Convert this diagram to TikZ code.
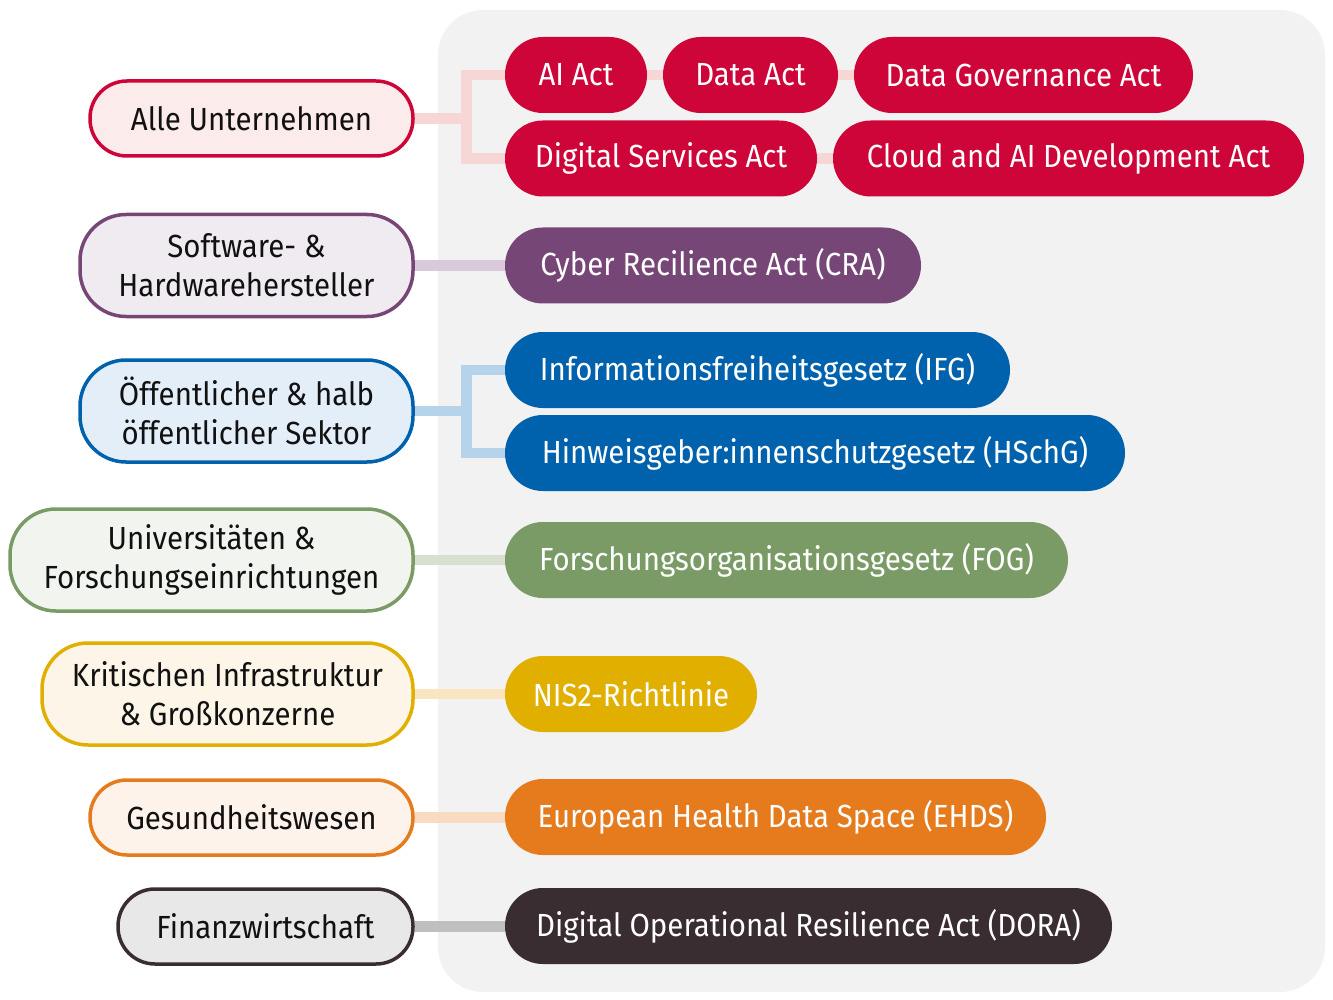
\documentclass[tikz,border=0pt]{standalone}
\usepackage{fontspec}
\setmainfont[FakeStretch=0.92]{Fira Sans}
\usetikzlibrary{backgrounds}
\definecolor{panel}{HTML}{F2F2F2}
\definecolor{cred}{HTML}{CE0538}\definecolor{credF}{HTML}{FBEBEA}\definecolor{credC}{HTML}{F6D7D6}
\definecolor{cpur}{HTML}{764677}\definecolor{cpurF}{HTML}{F0EBF1}\definecolor{cpurC}{HTML}{D9C9DA}
\definecolor{cblu}{HTML}{0062AD}\definecolor{cbluF}{HTML}{E3EEF8}\definecolor{cbluC}{HTML}{B5D3EB}
\definecolor{cgrn}{HTML}{7A9B66}\definecolor{cgrnF}{HTML}{F1F4EF}\definecolor{cgrnC}{HTML}{D6E0CD}
\definecolor{cyel}{HTML}{E1AF00}\definecolor{cyelF}{HTML}{FDF6E8}\definecolor{cyelC}{HTML}{F9E6C1}
\definecolor{cora}{HTML}{E67B1E}\definecolor{coraF}{HTML}{FDF3EA}\definecolor{coraC}{HTML}{F9DBC1}
\definecolor{cdrk}{HTML}{3A2D31}\definecolor{cdrkF}{HTML}{E8E8E8}\definecolor{cdrkC}{HTML}{C0BFBF}
\definecolor{txt}{HTML}{111111}
\tikzset{
  sector/.style={draw=#1, fill=#1F, line width=3.5pt, rounded corners=37pt, align=center,
    text=txt, inner sep=0pt, minimum height=75pt},
  sector2/.style={sector=#1, rounded corners=46pt, minimum height=102pt},
  act/.style={fill=#1, draw=none, rounded corners=37.9pt, text=white, inner sep=0pt,
    minimum height=76pt},
  conn/.style={draw=#1C, line width=10.5pt, line join=miter}
}
\begin{document}
\begin{tikzpicture}[x=1pt,y=-1pt,font=\fontsize{32}{39}\selectfont]
\useasboundingbox (0,0) rectangle (1333,1000);
% sector boxes
\node[sector=cred, minimum width=323pt] (alle) at (251.5,118.5) {Alle Unternehmen};
\node[sector2=cpur, minimum width=333pt] (soft) at (246.5,265.5) {Software- \&\\Hardwarehersteller};
\node[sector2=cblu, minimum width=333pt] (oeff) at (246.5,411) {Öffentlicher \& halb\\öffentlicher Sektor};
\node[sector2=cgrn, minimum width=403pt] (uni) at (211.5,560) {Universitäten \&\\Forschungseinrichtungen};
\node[sector2=cyel, minimum width=371pt] (krit) at (227.5,694) {Kritischen Infrastruktur\\\& Großkonzerne};
\node[sector=cora, minimum width=323pt] (ges) at (251.5,817.5) {Gesundheitswesen};
\node[sector=cdrk, minimum width=295pt] (fin) at (265.5,926.5) {Finanzwirtschaft};
% acts
\node[act=cred, minimum width=142pt] (ai) at (576,75) {AI Act};
\node[act=cred, minimum width=175pt] (data) at (750.5,75) {Data Act};
\node[act=cred, minimum width=339pt] (dga) at (1023.5,75) {Data Governance Act};
\node[act=cred, minimum width=312pt] (dsa) at (661,158.5) {Digital Services Act};
\node[act=cred, minimum width=471pt] (cloud) at (1068.5,158.5) {Cloud and AI Development Act};
\node[act=cpur, minimum width=416pt] (cra) at (713,265.5) {Cyber Recilience Act (CRA)};
\node[act=cblu, minimum width=505pt] (ifg) at (757.5,370) {Informationsfreiheitsgesetz (IFG)};
\node[act=cblu, minimum width=620pt] (hsch) at (815,453) {Hinweisgeber:innenschutzgesetz (HSchG)};
\node[act=cgrn, minimum width=563pt] (fog) at (786.5,560) {Forschungsorganisationsgesetz (FOG)};
\node[act=cyel, minimum width=252pt] (nis) at (631,694) {NIS2-Richtlinie};
\node[act=cora, minimum width=541pt] (ehds) at (775.5,817) {European Health Data Space (EHDS)};
\node[act=cdrk, minimum width=607pt] (dora) at (808.5,926) {Digital Operational Resilience Act (DORA)};
\coordinate (jr) at (466.5,118.5);
\coordinate (jb) at (466.5,411);
\begin{scope}[on background layer]
\fill[panel, rounded corners=45pt] (438,10) rectangle (1325,992);
\draw[conn=cred] (alle.east) -- (jr);
\draw[conn=cred] (ai.west) -| (jr) |- (dsa.west);
\draw[conn=cred] (ai.east) -- (data.west);
\draw[conn=cred] (data.east) -- (dga.west);
\draw[conn=cred] (dsa.east) -- (cloud.west);
\draw[conn=cpur] (soft.east) -- (cra.west);
\draw[conn=cblu] (oeff.east) -- (jb);
\draw[conn=cblu] (ifg.west) -| (jb) |- (hsch.west);
\draw[conn=cgrn] (uni.east) -- (uni.east -| fog.west);
\draw[conn=cyel] (krit.east) -- (krit.east -| nis.west);
\draw[conn=cora] (ges.east) -- (ges.east -| ehds.west);
\draw[conn=cdrk] (fin.east) -- (fin.east -| dora.west);
\end{scope}
\end{tikzpicture}
\end{document}
